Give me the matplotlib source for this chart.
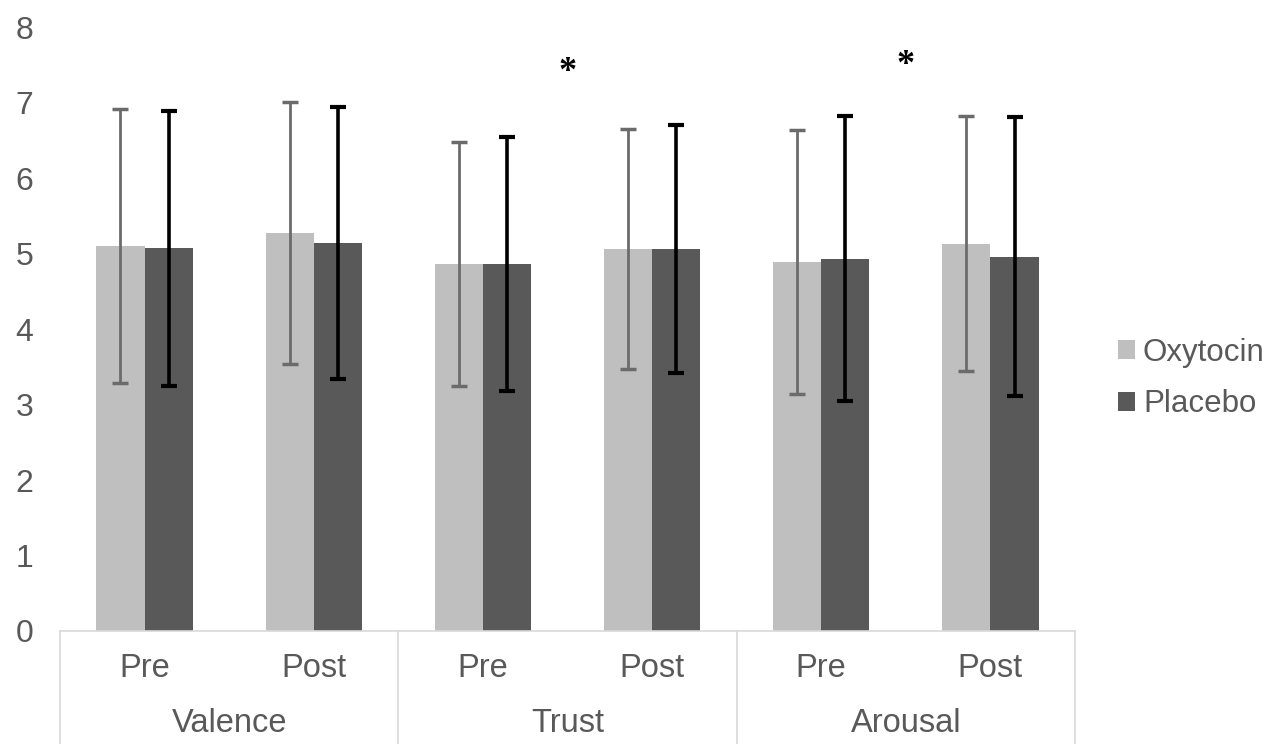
import matplotlib.pyplot as plt
import matplotlib.transforms as mtransforms
import numpy as np

plt.rcParams['font.family'] = ['Liberation Sans', 'DejaVu Sans']

conditions = ['Pre', 'Post', 'Pre', 'Post', 'Pre', 'Post']
groups = ['Valence', 'Trust', 'Arousal']
series = ['Oxytocin', 'Placebo']

oxy_mean = [5.10, 5.27, 4.86, 5.06, 4.89, 5.13]
oxy_sd = [1.82, 1.74, 1.62, 1.59, 1.75, 1.69]
plac_mean = [5.07, 5.14, 4.86, 5.06, 4.93, 4.96]
plac_sd = [1.82, 1.80, 1.68, 1.64, 1.89, 1.85]

# significance stars (x between categories, y in data units)
star_x = [2.5, 4.5]
star_y = [7.40, 7.49]

oxy_color = '#bfbfbf'
plac_color = '#595959'
line_color = '#d9d9d9'
text_color = '#595959'

fig = plt.figure(figsize=(12.78, 7.44), dpi=100)
ax = fig.add_axes([60 / 1278, 113 / 744, 1015 / 1278, 604 / 744])

x = np.arange(len(conditions))
w = 0.285
ax.bar(x - w / 2, oxy_mean, w, color=oxy_color, label=series[0], zorder=2)
ax.bar(x + w / 2, plac_mean, w, color=plac_color, label=series[1], zorder=2)
ax.errorbar(x - w / 2, oxy_mean, yerr=oxy_sd, fmt='none', ecolor='#6b6b6b',
            elinewidth=2, capsize=5.5, capthick=2.5, zorder=3)
ax.errorbar(x + w / 2, plac_mean, yerr=plac_sd, fmt='none', ecolor='black',
            elinewidth=2.6, capsize=5.5, capthick=3, zorder=3)

for sx, sy in zip(star_x, star_y):
    ax.text(sx, sy, '*', ha='center', va='center', fontsize=26,
            family='Liberation Serif', fontweight='bold', color='black')

ax.set_xlim(-0.5, len(conditions) - 0.5)
ax.set_ylim(0, 8)
ax.set_yticks(range(0, 9))
ax.tick_params(axis='y', length=0, labelsize=23, colors=text_color, pad=19)
ax.set_xticks([])
for s in ['top', 'right', 'left']:
    ax.spines[s].set_visible(False)
ax.spines['bottom'].set_color(line_color)
ax.spines['bottom'].set_linewidth(1.2)

trans = mtransforms.blended_transform_factory(ax.transData, ax.transAxes)
for i, c in enumerate(conditions):
    ax.text(i, -0.062, c, transform=trans, ha='center', va='center',
            fontsize=23.5, color=text_color)
for g, name in enumerate(groups):
    ax.text(2 * g + 0.5, -0.153, name, transform=trans, ha='center', va='center',
            fontsize=23.5, color=text_color)
for xs in [-0.5, 1.5, 3.5, 5.5]:
    ax.plot([xs, xs], [0, -0.19], transform=trans, color=line_color,
            lw=1.2, clip_on=False)

leg = ax.legend(loc='center left', bbox_to_anchor=(1.042, 0.418), frameon=False,
                fontsize=22.5, handlelength=0.55, handleheight=0.55,
                handletextpad=0.26, labelspacing=0.7, borderpad=0,
                borderaxespad=0)
for t in leg.get_texts():
    t.set_color(text_color)

fig.savefig('out.png', dpi=100)
